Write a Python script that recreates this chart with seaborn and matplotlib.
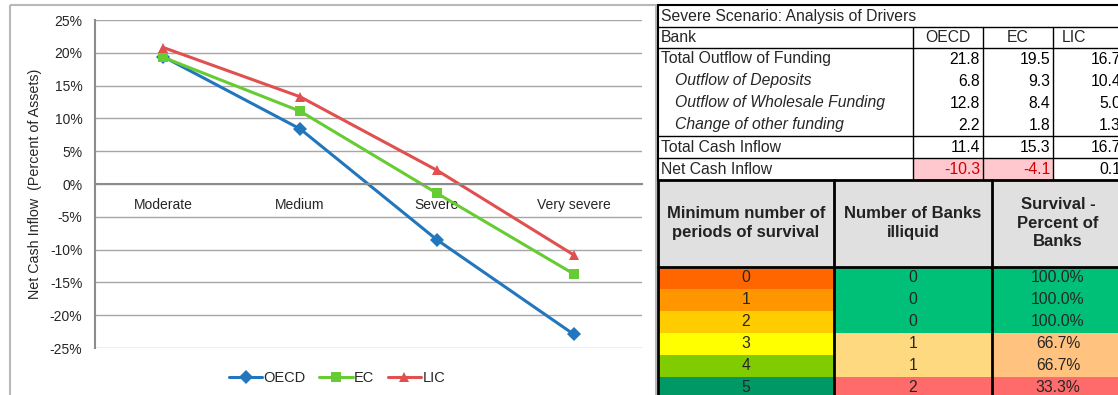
import matplotlib
matplotlib.use("Agg")
from matplotlib import pyplot as plt
from matplotlib.patches import Rectangle
from matplotlib.ticker import FuncFormatter, FixedLocator
import numpy as np
import pandas as pd
import seaborn as sns

# chart data
scenarios = ["Moderate", "Medium", "Severe", "Very severe"]
banks = ["OECD", "EC", "LIC"]
oecd = [0.194, 0.084, -0.085, -0.229]
ec = [0.193, 0.111, -0.014, -0.137]
lic = [0.208, 0.133, 0.021, -0.108]

# driver table
driver_rows = ["Total Outflow of Funding", "Outflow of Deposits",
               "Outflow of Wholesale Funding", "Change of other funding",
               "Total Cash Inflow", "Net Cash Inflow"]
oecd_drv = [21.8, 6.8, 12.8, 2.2, 11.4, -10.3]
ec_drv = [19.5, 9.3, 8.4, 1.8, 15.3, -4.1]
lic_drv = [16.7, 10.4, 5.0, 1.3, 16.7, 0.1]

# survival table
periods = [0, 1, 2, 3, 4, 5]
illiquid = [0, 0, 0, 1, 1, 2]
survival_pct = [100.0, 100.0, 100.0, 66.7, 66.7, 33.3]

sns.set_style("white")
plt.rcParams['font.family'] = ['Liberation Sans', 'DejaVu Sans']
plt.rcParams['axes.unicode_minus'] = False

W, H = 1118, 395
fig = plt.figure(figsize=(W / 100, H / 100), dpi=100)

# background axes in pixel coordinates for frame and tables
bg = fig.add_axes([0, 0, 1, 1])
bg.set_xlim(0, W)
bg.set_ylim(H, 0)
bg.axis('off')

bg.add_patch(Rectangle((10, 5), 646, 400, fill=False, ec='#b8b8b8', lw=1.5))

df = pd.DataFrame({
    'scenario': scenarios * 3,
    'value': oecd + ec + lic,
    'bank': [b for b in banks for _ in scenarios],
})

colors = {'OECD': '#2176bd', 'EC': '#66cc33', 'LIC': '#e0504f'}
marks = {'OECD': 'D', 'EC': 's', 'LIC': '^'}

ax = fig.add_axes([95 / W, 1 - 348 / H, 547 / W, 328 / H])
sns.lineplot(data=df, x='scenario', y='value', hue='bank', style='bank',
             hue_order=banks, style_order=banks, palette=colors,
             markers=marks, dashes=False, lw=2.2, markersize=7,
             markeredgewidth=0, legend=False, sort=False, ax=ax)

ax.set_xlim(-0.5, 3.5)
ax.set_ylim(-0.25, 0.25)
ax.set_yticks(np.arange(-0.25, 0.2501, 0.05))
ax.yaxis.set_major_formatter(FuncFormatter(lambda v, p: f"{int(round(v * 100))}%"))
ax.grid(axis='y', color='#a6a6a6', lw=1)
ax.set_axisbelow(True)
for s in ['top', 'right']:
    ax.spines[s].set_visible(False)
ax.spines['left'].set_color('#8c8c8c')
ax.spines['left'].set_linewidth(1.5)
ax.spines['bottom'].set_position(('data', 0))
ax.spines['bottom'].set_color('#8c8c8c')
ax.spines['bottom'].set_linewidth(1.5)
ax.set_xticks(range(len(scenarios)))
ax.set_xticklabels(scenarios)
ax.xaxis.set_minor_locator(FixedLocator([0.5, 1.5, 2.5, 3.5]))
ax.tick_params(axis='x', which='major', length=0, pad=10, labelsize=10)
ax.tick_params(axis='x', which='minor', length=3, color='#8c8c8c', direction='out')
ax.tick_params(axis='y', length=0, pad=9, labelsize=10)
ax.set_xlabel('')
ax.set_ylabel('Net Cash Inflow  (Percent of Assets)', fontsize=10.3, labelpad=6)

ax.legend(ax.lines[:3], banks, loc='center', bbox_to_anchor=(337 / W, 1 - 378 / H),
          bbox_transform=fig.transFigure, ncol=3, frameon=False, fontsize=10.5,
          handlelength=2.3, handletextpad=0.1, columnspacing=0.9)

# ---- driver table ----
fs = 11.3
cx = [658, 913, 983, 1053, 1124]
ry = [5, 27, 48, 70, 92, 114, 136, 158, 180]
for j, val in enumerate([oecd_drv[5], ec_drv[5]]):
    if val < 0:
        bg.add_patch(Rectangle((cx[1 + j], ry[7]), cx[2 + j] - cx[1 + j], 22,
                               fc='#ffc7ce', ec='none'))
bg.text(661, 16, 'Severe Scenario: Analysis of Drivers', fontsize=fs, va='center')
bg.text(661, 38, 'Bank', fontsize=fs, va='center')
for j, b in enumerate(banks):
    bg.text((cx[1 + j] + cx[2 + j]) / 2 if j < 2 else 1062, 38, b, fontsize=fs,
            va='center', ha='center' if j < 2 else 'left')
row_y = [59, 81, 103, 125, 147, 169]
for i, name in enumerate(driver_rows):
    sub = 1 <= i <= 3
    bg.text(675 if sub else 661, row_y[i], name, fontsize=fs, va='center',
            style='italic' if sub else 'normal')
    for j, vals in enumerate([oecd_drv, ec_drv, lic_drv]):
        v = vals[i]
        col = '#d00000' if v < 0 else 'black'
        bg.text(cx[2 + j] - 3, row_y[i], f"{v:.1f}", fontsize=fs, va='center',
                ha='right', color=col)

for y in [27, 48, 136, 158]:
    bg.plot([658, W], [y, y], color='black', lw=1)
for x in cx[1:4]:
    bg.plot([x, x], [27, 180], color='black', lw=1)
bg.plot([658, W], [5, 5], color='black', lw=1.5)
bg.plot([658, 658], [5, 180], color='black', lw=1.5)

# ---- survival table ----
lx = [658, 834, 992, 1130]
bg.add_patch(Rectangle((658, 180), W - 658, 87, fc='#e0e0e0', ec='none'))
heads = ['Minimum number of\nperiods of survival', 'Number of Banks\nilliquid',
         'Survival -\nPercent of\nBanks']
for j, h in enumerate(heads):
    xc = (lx[j] + lx[j + 1]) / 2 if j < 2 else 1058
    bg.text(xc, 223, h, fontsize=12, fontweight='bold', ha='center', va='center',
            linespacing=1.3, color='#222222')

period_colors = ['#ff6600', '#ff9600', '#ffcc00', '#ffff00', '#80cc00', '#009966']
illiq_colors = ['#00c078', '#00c078', '#00c078', '#ffd97f', '#ffd97f', '#ff6b6b']
surv_colors = ['#00c078', '#00c078', '#00c078', '#ffc27f', '#ffc27f', '#ff6b6b']
for i in range(len(periods)):
    y0 = 267 + 22 * i
    for j, fc in enumerate([period_colors[i], illiq_colors[i], surv_colors[i]]):
        bg.add_patch(Rectangle((lx[j], y0), lx[j + 1] - lx[j], 22, fc=fc, ec='none'))
    bg.text((lx[0] + lx[1]) / 2, y0 + 11, str(periods[i]), fontsize=fs,
            ha='center', va='center')
    bg.text((lx[1] + lx[2]) / 2, y0 + 11, str(illiquid[i]), fontsize=fs,
            ha='center', va='center')
    bg.text(1058, y0 + 11, f"{survival_pct[i]:.1f}%", fontsize=fs,
            ha='center', va='center')

for y in [180, 267]:
    bg.plot([658, W], [y, y], color='black', lw=2)
for x in lx[:3]:
    bg.plot([x, x], [180, H], color='black', lw=2)

fig.savefig('out.png', dpi=100)
